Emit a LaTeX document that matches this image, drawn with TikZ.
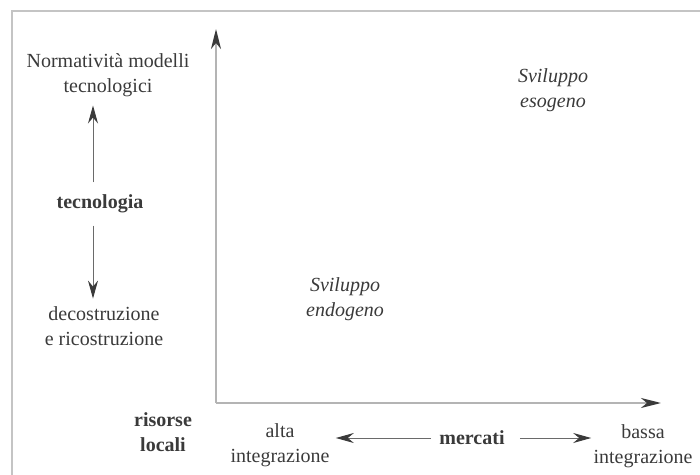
\documentclass[tikz,border=0pt]{standalone}
\usepackage{fontspec}
\setmainfont{Liberation Serif}
\usetikzlibrary{arrows.meta}
\definecolor{txt}{HTML}{3A3A3A}
\definecolor{axisgray}{HTML}{B4B4B4}
\definecolor{framegray}{HTML}{C4C4C4}
\definecolor{arrgray}{HTML}{6A6A6A}
\begin{document}
\begin{tikzpicture}[x=0.5pt,y=-0.5pt,
  lbl/.style={align=center, text=txt, font=\fontsize{10}{12.5}\selectfont, inner sep=0pt},
  blbl/.style={lbl, font=\fontsize{10}{12.5}\selectfont\bfseries},
  ilbl/.style={lbl, font=\fontsize{10}{12.5}\selectfont\itshape},
  framestyle/.style={draw=framegray, line width=1.2pt},
  axisstyle/.style={draw=axisgray, line width=1.1pt, -{Stealth[length=10pt,width=5pt,inset=3pt,fill=txt,color=txt]}},
  arr/.style={draw=arrgray, line width=0.5pt, -{Stealth[length=9pt,width=5pt,inset=3pt,fill=txt,color=txt]}}]
\useasboundingbox (0,0) rectangle (700,475);
\draw[framestyle] (12,475) -- (12,11) -- (700,11);
\coordinate (O) at (216,403);
\coordinate (Ytop) at (216,29);
\coordinate (Xend) at (661,403);
\draw[axisstyle] (O) -- (Ytop);
\draw[axisstyle] (O) -- (Xend);
\node[lbl] (norm) at (108,75.5) {Normatività modelli\\tecnologici};
\node[blbl] (tec) at (100,204) {tecnologia};
\node[lbl] (deco) at (104,326.5) {decostruzione\\e ricostruzione};
\node[ilbl] (endo) at (345,299) {Sviluppo\\endogeno};
\node[ilbl] (eso) at (553,90.5) {Sviluppo\\esogeno};
\node[blbl] (ris) at (163,432.5) {risorse\\locali};
\node[lbl] (alta) at (280,445) {alta\\integrazione};
\node[blbl] (merc) at (472,438) {mercati};
\node[lbl] (bassa) at (643,446.5) {bassa\\integrazione};
\coordinate (vx) at (93,0);
\draw[arr, shorten <=6pt, shorten >=4pt] (tec.north -| vx) -- (norm.south -| vx);
\draw[arr, shorten <=6pt, shorten >=4pt] (tec.south -| vx) -- (deco.north -| vx);
\draw[arr, shorten <=4pt, shorten >=3pt] (merc.west) -- (alta.east |- merc.west);
\draw[arr, shorten <=7.5pt, shorten >=1pt] (merc.east) -- (bassa.west |- merc.east);
\end{tikzpicture}
\end{document}
